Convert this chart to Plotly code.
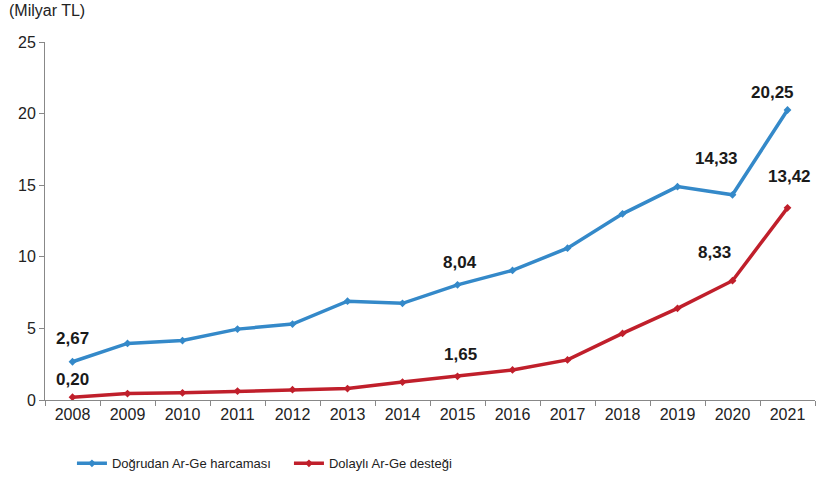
import plotly.graph_objects as go

years = ["2008", "2009", "2010", "2011", "2012", "2013", "2014", "2015",
         "2016", "2017", "2018", "2019", "2020", "2021"]
dogrudan = [2.67, 3.95, 4.15, 4.95, 5.3, 6.9, 6.75, 8.04, 9.05, 10.6, 13.0, 14.9, 14.33, 20.25]
dolayli = [0.20, 0.45, 0.5, 0.62, 0.72, 0.8, 1.25, 1.65, 2.1, 2.8, 4.65, 6.4, 8.33, 13.42]
series_names = ["Doğrudan Ar-Ge harcaması", "Dolaylı Ar-Ge desteği"]
labeled_idx_blue = [0, 7, 12, 13]
labeled_idx_red = [0, 7, 12, 13]
y_ticks = [0, 5, 10, 15, 20, 25]

blue = "#3489c9"
red = "#c01f2b"
font = "Liberation Sans, Arial, sans-serif"

fig = go.Figure()
fig.add_trace(go.Scatter(x=years, y=dogrudan, mode="lines+markers", name=series_names[0],
                         line=dict(color=blue, width=3.5),
                         marker=dict(symbol="diamond", size=6, color=blue)))
fig.add_trace(go.Scatter(x=years, y=dolayli, mode="lines+markers", name=series_names[1],
                         line=dict(color=red, width=3.5),
                         marker=dict(symbol="diamond", size=6, color=red)))

def fmt(v):
    return f"{v:.2f}".replace(".", ",")

shifts_blue = {0: (0, 23), 7: (2, 22), 12: (-16, 36), 13: (-15, 18)}
shifts_red = {0: (0, 18), 7: (3, 22), 12: (-18, 28), 13: (2, 31)}
for i in labeled_idx_blue:
    dx, dy = shifts_blue[i]
    fig.add_annotation(x=i, y=dogrudan[i], xref="x", yref="y",
                       text="<b>" + fmt(dogrudan[i]) + "</b>",
                       showarrow=False, xshift=dx, yshift=dy,
                       font=dict(size=17, color="#1a1a1a", family=font))
for i in labeled_idx_red:
    dx, dy = shifts_red[i]
    fig.add_annotation(x=i, y=dolayli[i], xref="x", yref="y",
                       text="<b>" + fmt(dolayli[i]) + "</b>",
                       showarrow=False, xshift=dx, yshift=dy,
                       font=dict(size=17, color="#1a1a1a", family=font))

fig.add_annotation(xref="paper", yref="paper", x=-0.049, y=1.06, xanchor="left", yanchor="bottom",
                   text="(Milyar TL)", showarrow=False,
                   font=dict(size=16, color="#222", family=font))

fig.update_layout(
    width=817, height=497,
    margin=dict(l=45, r=2, t=42, b=97),
    plot_bgcolor="white", paper_bgcolor="white",
    font=dict(family=font, size=15, color="#222"),
    showlegend=True,
    legend=dict(orientation="h", x=0.035, xanchor="left", y=-0.135, yanchor="top",
                font=dict(size=13, family=font), itemwidth=30, tracegroupgap=0,
                entrywidthmode="pixels", entrywidth=172),
    xaxis=dict(type="category", showgrid=False, showline=True, linecolor="#888",
               linewidth=1, ticks="outside", ticklen=5, tickcolor="#888",
               tickson="boundaries", range=[-0.5, 13.5],
               tickfont=dict(size=16, family=font, color="#222")),
    yaxis=dict(range=[0, 25], tickvals=y_ticks, showgrid=False, showline=True,
               linecolor="#888", linewidth=1, ticks="outside", ticklen=5,
               tickcolor="#888", zeroline=False,
               tickfont=dict(size=16, family=font, color="#222")),
)

fig.write_html("out.html")
